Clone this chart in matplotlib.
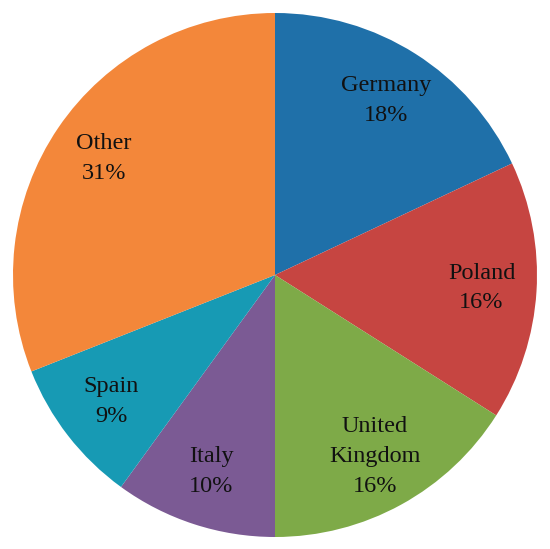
import matplotlib

matplotlib.use("Agg")
import matplotlib.pyplot as plt

plt.rcParams["font.family"] = ["Liberation Serif", "DejaVu Serif"]

countries = ["Germany", "Poland", "United\nKingdom", "Italy", "Spain", "Other"]
shares = [18, 16, 16, 10, 9, 31]
colors = ["#1F70A9", "#C64541", "#7EAA48", "#7B5A94", "#179AB4", "#F3873A"]

fig = plt.figure(figsize=(5.5, 5.49), dpi=100)
ax = fig.add_axes([13 / 550, 12 / 549, 524 / 550, 524 / 549])

labels = [f"{c}\n{v}%" for c, v in zip(countries, shares)]
wedges, texts = ax.pie(shares, labels=labels, colors=colors, startangle=90,
                       counterclock=False, labeldistance=0.79,
                       wedgeprops=dict(linewidth=0),
                       textprops=dict(fontsize=17.5, color="#111"))
for t in texts:
    t.set_ha("center")
    t.set_va("center")
    t.set_linespacing(1.55)

ax.set_xlim(-1, 1); ax.set_ylim(-1, 1)
ax.set_aspect("equal")
ax.axis("off")
fig.savefig("out.png", dpi=100)
